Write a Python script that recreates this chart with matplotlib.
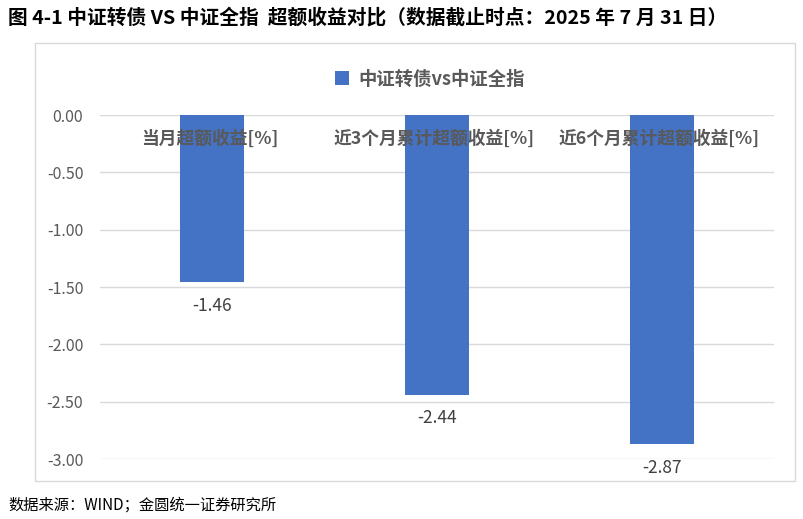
import matplotlib.pyplot as plt
from matplotlib.patches import Rectangle

plt.rcParams['font.family'] = ['Noto Sans CJK SC', 'DejaVu Sans']

categories = ['当月超额收益[%]', '近3个月累计超额收益[%]', '近6个月累计超额收益[%]']
values = [-1.46, -2.44, -2.87]
series_name = '中证转债vs中证全指'
yticks = [0.0, -0.5, -1.0, -1.5, -2.0, -2.5, -3.0]

bar_color = '#4472C4'
grid_color = '#d9d9d9'

fig = plt.figure(figsize=(8.04, 5.19), dpi=100)

# outer chart frame
fig.patches.append(Rectangle((35 / 804, 1 - 481 / 519), 760 / 804, 438 / 519,
                             transform=fig.transFigure, fill=False,
                             edgecolor='#d9d9d9', linewidth=1))

ax = fig.add_axes([100 / 804, 1 - 459 / 519, 674 / 804, 344 / 519])
x = list(range(len(categories)))
bars = ax.bar(x, values, width=0.285, color=bar_color, zorder=2, label=series_name)

ax.set_xlim(-0.5, 2.5)
ax.set_ylim(-3.0, 0.0)
ax.set_yticks(yticks)
ax.set_yticklabels(['%.2f' % v for v in yticks], color='#595959', fontsize=11.5)
ax.tick_params(axis='y', length=0, pad=12)
ax.set_xticks([])
for s in ax.spines.values():
    s.set_visible(False)
ax.grid(axis='y', color=grid_color, linewidth=1, zorder=0)
ax.set_axisbelow(True)

for i, cat in enumerate(categories):
    ax.annotate(cat, (i, 0), xytext=(-2, -17), textcoords='offset points',
                ha='center', va='center', fontsize=12.8, color='#595959',
                fontweight='bold', zorder=5, annotation_clip=False)

for i, v in enumerate(values):
    ax.annotate('%.2f' % v, (i, v), xytext=(0, -17), textcoords='offset points',
                ha='center', va='center', fontsize=12.5, color='#404040',
                annotation_clip=False)

leg = fig.legend(handles=[bars], labels=[series_name], loc='center',
                 bbox_to_anchor=(430 / 804, 1 - 79 / 519), frameon=False,
                 handlelength=0.8, handleheight=0.8, handletextpad=0.5,
                 prop={'size': 13.2, 'weight': 'bold'})
for t in leg.get_texts():
    t.set_color('#595959')

fig.text(8 / 804, 1 - 18 / 519,
         '图 4-1 中证转债 VS 中证全指  超额收益对比（数据截止时点：2025 年 7 月 31 日）',
         ha='left', va='center', fontsize=14.2, fontweight='bold', color='black')
fig.text(8 / 804, 1 - 505 / 519, '数据来源：WIND；金圆统一证券研究所',
         ha='left', va='center', fontsize=11, color='black')

fig.savefig('out.png', dpi=100)
